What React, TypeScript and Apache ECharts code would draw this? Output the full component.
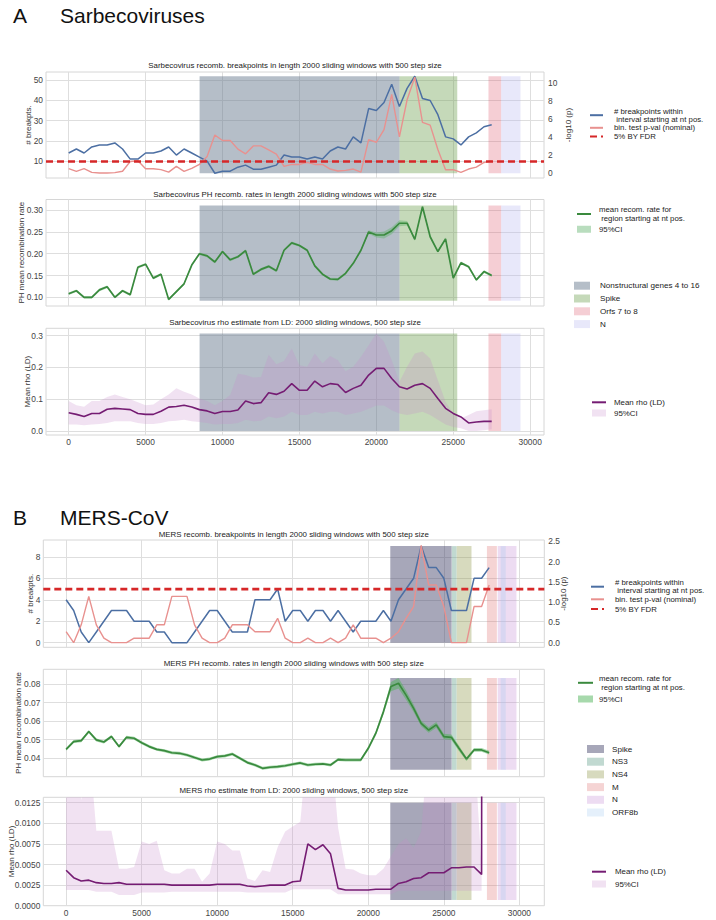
import React, { useEffect, useRef } from 'react';
import * as echarts from 'echarts';

// ---------------- data ----------------
const positionsA = [0, 500, 1000, 1500, 2000, 2500, 3000, 3500, 4000, 4500, 5000, 5500, 6000, 6500, 7000, 7500, 8000, 8500, 9000, 9500, 10000, 10500, 11000, 11500, 12000, 12500, 13000, 13500, 14000, 14500, 15000, 15500, 16000, 16500, 17000, 17500, 18000, 18500, 19000, 19500, 20000, 20500, 21000, 21500, 22000, 22500, 23000, 23500, 24000, 24500, 25000, 25500, 26000, 26500, 27000, 27500];
const breakpointsA = [14, 16, 14, 17, 18, 18, 19, 16, 11, 11, 14, 14, 15, 17, 13, 16, 14, 12, 10, 4, 5, 5, 7, 8, 6, 6, 7, 8, 13, 12, 12, 11, 12, 11, 15, 17, 16, 22, 19, 36, 35, 39, 48, 37, 46, 52, 41, 40, 33, 22, 21, 18, 22, 24, 27, 28];
const pvalA = [0.48, 0.18, 0.48, 0.07, 0, 0, 0.04, 0.2, 1.28, 1.35, 0.48, 0.48, 0.37, 0.1, 0.73, 0.18, 0.51, 0.95, 1.83, 4.2, 3.6, 3.6, 2.64, 2.12, 3.0, 3.0, 2.56, 2.09, 0.73, 0.95, 0.95, 1.17, 0.95, 0.95, 0.44, 0.22, 0.29, 0.44, 0.1, 3.7, 3.4, 4.8, 8.7, 4.0, 8.1, 10.6, 5.6, 5.3, 2.6, 0.37, 0.37, 0.07, 0.44, 0.66, 1.17, 1.35];
const fdrThresholdA = 1.28;
const phRateA = [0.108, 0.115, 0.1, 0.1, 0.117, 0.124, 0.1, 0.115, 0.106, 0.169, 0.176, 0.144, 0.153, 0.095, 0.113, 0.131, 0.174, 0.2, 0.195, 0.181, 0.205, 0.186, 0.193, 0.207, 0.153, 0.164, 0.171, 0.161, 0.208, 0.225, 0.219, 0.208, 0.172, 0.153, 0.142, 0.141, 0.155, 0.178, 0.208, 0.25, 0.243, 0.243, 0.253, 0.27, 0.27, 0.233, 0.308, 0.239, 0.205, 0.234, 0.144, 0.179, 0.17, 0.14, 0.159, 0.15];
const phCiHalfA = [0.003, 0.003, 0.003, 0.003, 0.003, 0.003, 0.003, 0.003, 0.003, 0.003, 0.003, 0.003, 0.003, 0.003, 0.003, 0.003, 0.003, 0.003, 0.003, 0.003, 0.003, 0.003, 0.003, 0.003, 0.003, 0.003, 0.003, 0.003, 0.003, 0.003, 0.003, 0.003, 0.003, 0.003, 0.003, 0.003, 0.003, 0.003, 0.003, 0.004, 0.006, 0.008, 0.008, 0.007, 0.005, 0.003, 0.003, 0.003, 0.003, 0.003, 0.003, 0.003, 0.003, 0.003, 0.003, 0.003];
const rhoA = [0.057, 0.052, 0.045, 0.055, 0.055, 0.068, 0.071, 0.069, 0.067, 0.055, 0.052, 0.052, 0.062, 0.075, 0.077, 0.081, 0.075, 0.067, 0.063, 0.055, 0.061, 0.061, 0.066, 0.094, 0.086, 0.089, 0.12, 0.115, 0.125, 0.149, 0.128, 0.128, 0.157, 0.139, 0.149, 0.146, 0.121, 0.134, 0.144, 0.176, 0.197, 0.197, 0.165, 0.139, 0.132, 0.144, 0.149, 0.134, 0.102, 0.071, 0.055, 0.044, 0.025, 0.028, 0.03, 0.03];
const rhoLoA = [0.02, 0.02, 0.018, 0.02, 0.022, 0.025, 0.03, 0.03, 0.03, 0.025, 0.022, 0.022, 0.025, 0.03, 0.032, 0.035, 0.03, 0.028, 0.025, 0.02, 0.022, 0.022, 0.025, 0.035, 0.03, 0.032, 0.045, 0.04, 0.045, 0.06, 0.05, 0.05, 0.06, 0.055, 0.06, 0.06, 0.05, 0.055, 0.06, 0.07, 0.08, 0.08, 0.065, 0.055, 0.05, 0.055, 0.06, 0.05, 0.035, 0.02, 0.012, 0.008, 0.0, 0.0, 0.002, 0.005];
const rhoHiA = [0.094, 0.081, 0.076, 0.094, 0.094, 0.107, 0.115, 0.107, 0.1, 0.09, 0.081, 0.083, 0.1, 0.115, 0.134, 0.123, 0.115, 0.102, 0.094, 0.081, 0.094, 0.113, 0.18, 0.176, 0.168, 0.17, 0.24, 0.21, 0.22, 0.26, 0.207, 0.202, 0.244, 0.213, 0.236, 0.223, 0.188, 0.202, 0.234, 0.27, 0.307, 0.281, 0.223, 0.155, 0.202, 0.244, 0.25, 0.228, 0.16, 0.092, 0.055, 0.039, 0.05, 0.062, 0.065, 0.068];

const positionsB = [0, 500, 1000, 1500, 2000, 2500, 3000, 3500, 4000, 4500, 5000, 5500, 6000, 6500, 7000, 7500, 8000, 8500, 9000, 9500, 10000, 10500, 11000, 11500, 12000, 12500, 13000, 13500, 14000, 14500, 15000, 15500, 16000, 16500, 17000, 17500, 18000, 18500, 19000, 19500, 20000, 20500, 21000, 21500, 22000, 22500, 23000, 23500, 24000, 24500, 25000, 25500, 26000, 26500, 27000, 27500, 28000];
const breakpointsB = [4, 3, 1, 0, 1, 2, 3, 3, 3, 2, 2, 2, 1, 1, 0, 0, 0, 1, 2, 3, 3, 2, 1, 1, 1, 4, 4, 4, 5, 2, 3, 3, 2, 3, 3, 2, 3, 2, 1, 2, 2, 2, 3, 2, 4, 5, 6, 9, 7, 7, 6, 3, 3, 3, 6, 6, 7];
const pvalB = [0.27, 0, 0.44, 1.14, 0.44, 0.11, 0, 0, 0, 0.11, 0.11, 0.11, 0.44, 0.44, 1.14, 1.14, 1.14, 0.44, 0.11, 0, 0, 0.11, 0.44, 0.44, 0.44, 0.27, 0.27, 0.27, 0.6, 0.11, 0, 0, 0.11, 0, 0, 0.11, 0, 0.11, 0.44, 0.11, 0.11, 0.11, 0, 0.11, 0.27, 0.6, 0.89, 2.4, 1.42, 1.42, 0.89, 0, 0, 0, 0.89, 0.89, 1.42];
const fdrThresholdB = 1.32;
const phRateB = [0.0448, 0.049, 0.0495, 0.0544, 0.0499, 0.0488, 0.0517, 0.0463, 0.0513, 0.0508, 0.0484, 0.0463, 0.0448, 0.0441, 0.043, 0.0427, 0.0418, 0.0404, 0.0391, 0.0396, 0.0409, 0.0413, 0.0423, 0.04, 0.0377, 0.0364, 0.0346, 0.0352, 0.0355, 0.036, 0.0368, 0.0375, 0.0364, 0.0368, 0.037, 0.0364, 0.0393, 0.0391, 0.0391, 0.0391, 0.0454, 0.0535, 0.065, 0.0786, 0.0804, 0.074, 0.0669, 0.0588, 0.0552, 0.058, 0.0517, 0.0513, 0.0454, 0.0396, 0.0445, 0.0445, 0.043];
const phCiHalfB = [0.0008, 0.0008, 0.0008, 0.0009, 0.0008, 0.0008, 0.0008, 0.0008, 0.0008, 0.0008, 0.0008, 0.0008, 0.0008, 0.0008, 0.0008, 0.0008, 0.0008, 0.0008, 0.0008, 0.0008, 0.0008, 0.0008, 0.0008, 0.0008, 0.0008, 0.0008, 0.0008, 0.0008, 0.0008, 0.0008, 0.0008, 0.0008, 0.0008, 0.0008, 0.0008, 0.0008, 0.0008, 0.0008, 0.0008, 0.0008, 0.001, 0.0012, 0.0015, 0.0025, 0.0028, 0.0025, 0.002, 0.0015, 0.0015, 0.0015, 0.0015, 0.0015, 0.0015, 0.001, 0.001, 0.001, 0.001];
const rhoB = [0.0043, 0.0034, 0.003, 0.0031, 0.0028, 0.0027, 0.0027, 0.0028, 0.0026, 0.0026, 0.0026, 0.0026, 0.0026, 0.0026, 0.0025, 0.0025, 0.0025, 0.0025, 0.0025, 0.0025, 0.0026, 0.0026, 0.0026, 0.0026, 0.0024, 0.0023, 0.0024, 0.0025, 0.0025, 0.0025, 0.0029, 0.003, 0.0075, 0.0068, 0.0074, 0.0063, 0.0021, 0.0019, 0.0019, 0.0019, 0.0019, 0.002, 0.002, 0.002, 0.0027, 0.0029, 0.0033, 0.0034, 0.004, 0.004, 0.004, 0.0046, 0.0046, 0.0047, 0.0047, 0.0038, 1.0];
const rhoLoB = [0.0019, 0.0019, 0.0019, 0.0019, 0.0017, 0.0017, 0.0017, 0.0013, 0.0013, 0.0013, 0.0016, 0.0016, 0.0016, 0.0016, 0.0017, 0.0017, 0.0017, 0.0017, 0.0017, 0.0017, 0.0017, 0.0017, 0.0017, 0.0017, 0.0016, 0.0016, 0.0016, 0.0016, 0.0016, 0.0016, 0.002, 0.002, 0.002, 0.002, 0.002, 0.002, 0.0014, 0.0014, 0.0014, 0.0014, 0.0014, 0.0014, 0.0014, 0.0014, 0.0018, 0.0018, 0.0018, 0.0018, 0.0018, 0.0018, 0.0018, 0.0018, 0.0018, 0.0018, 0.0018, 0.0018, 0.5];
const rhoHiB = [0.02, 0.02, 0.0128, 0.02, 0.0091, 0.0091, 0.0091, 0.0045, 0.0045, 0.0047, 0.0078, 0.0075, 0.0079, 0.0043, 0.0039, 0.0039, 0.0045, 0.0045, 0.0029, 0.0039, 0.0078, 0.0075, 0.0067, 0.0067, 0.0033, 0.003, 0.0043, 0.0041, 0.0071, 0.009, 0.0096, 0.0102, 0.02, 0.02, 0.02, 0.02, 0.0095, 0.0045, 0.0044, 0.0039, 0.0037, 0.0037, 0.0045, 0.006, 0.0075, 0.0082, 0.007, 0.009, 0.02, 0.02, 0.02, 0.02, 0.02, 0.02, 0.02, 0.0045, 1.5];

const regionNamesA = ['Nonstructural genes 4 to 16', 'Spike', 'Orfs 7 to 8', 'N'];
const regionStartA = [8510, 21510, 27290, 28115];
const regionEndA = [21510, 25260, 28115, 29370];
const regionNamesB = ['Spike ', 'NS3', 'NS4', 'M', 'N ', 'ORF8b'];
const regionStartB = [21456, 25532, 25852, 27853, 28566, 28762];
const regionEndB = [25517, 25843, 26832, 28512, 29807, 29100];
const regionExtentB3 = [0.0007, 0.0125];

const xTickValues = [0, 5000, 10000, 15000, 20000, 25000, 30000];
const ticksA1Left = [10, 20, 30, 40, 50];
const ticksA1Right = [0, 2, 4, 6, 8, 10];
const ticksA2 = [0.1, 0.15, 0.2, 0.25, 0.3];
const ticksA3 = [0, 0.1, 0.2, 0.3];
const ticksB1Left = [0, 2, 4, 6, 8];
const ticksB1Right = [0, 0.5, 1, 1.5, 2, 2.5];
const ticksB2 = [0.04, 0.05, 0.06, 0.07, 0.08];
const ticksB3 = [0, 0.0025, 0.005, 0.0075, 0.01, 0.0125];

// ---------------- styling ----------------
const FONT = '"Liberation Sans", Arial, Helvetica, sans-serif';
const cBlue = '#4c6fa3';
const cPink = '#e8918f';
const cRed = '#d62728';
const cGreen = '#3a8a3e';
const cGreenBandA = 'rgba(100,180,110,0.45)';
const cGreenBandB = 'rgba(80,180,90,0.5)';
const cPurple = '#751c73';
const cPurpleBand = 'rgba(200,140,205,0.25)';
const regionColorsA = ['rgba(100,120,140,0.48)', 'rgba(110,160,80,0.4)', 'rgba(220,80,100,0.28)', 'rgba(180,180,240,0.3)'];
const regionColorsB = ['rgba(60,60,100,0.45)', 'rgba(100,160,140,0.4)', 'rgba(140,150,70,0.35)', 'rgba(220,100,100,0.28)', 'rgba(190,130,210,0.28)', 'rgba(160,200,240,0.28)'];

const xMinA = -1475, xMaxA = 30900;
const xMinB = -1510, xMaxB = 31650;

const nBpA = '# breakpoints within\n interval starting at nt pos.';
const nPvA = 'bin. test p-val (nominal)';
const nFdrA = '5% BY FDR';
const nPhA = 'mean recom. rate for\n region starting at nt pos.';
const nCiA2 = '95%CI';
const nRhoA = 'Mean rho (LD)';
const nCiA3 = '95%CI ';
const nBpB = '# breakpoints within\n interval starting at nt pos. ';
const nPvB = 'bin. test p-val (nominal) ';
const nFdrB = '5% BY FDR ';
const nPhB = 'mean recom. rate for\n region starting at nt pos. ';
const nCiB2 = '95%CI  ';
const nRhoB = 'Mean rho (LD) ';
const nCiB3 = '95%CI   ';

function buildOption() {
  const grids = [
    { left: 46, top: 72, width: 498, height: 106 },
    { left: 46, top: 199.5, width: 498, height: 106.5 },
    { left: 46, top: 328.3, width: 498, height: 106.7 },
    { left: 43.3, top: 540, width: 501, height: 107.3 },
    { left: 43.3, top: 669.3, width: 501, height: 107.4 },
    { left: 43.3, top: 797.3, width: 501, height: 108.4 },
  ].map((g) => ({ ...g, show: true, borderColor: '#d6d6d6', borderWidth: 1, backgroundColor: 'transparent' }));

  const xAx = (gi: number, min: number, max: number, showLabels: boolean) => ({
    type: 'value', gridIndex: gi, min, max,
    axisLine: { show: false },
    axisTick: { show: false, customValues: xTickValues },
    axisLabel: { show: showLabels, customValues: xTickValues, formatter: (v: number) => String(v), fontSize: 8.4, color: '#444', margin: 3, fontFamily: FONT },
    splitLine: { show: true, lineStyle: { color: '#dedede', width: 1 } },
  });

  const yAx = (o: any) => ({
    type: 'value', gridIndex: o.gi, min: o.min, max: o.max, position: o.pos || 'left',
    axisLine: { show: false },
    axisTick: { show: false, customValues: o.ticks },
    axisLabel: { show: true, customValues: o.ticks, formatter: o.fmt, fontSize: 8.4, color: '#444', margin: o.pos === 'right' ? 4 : 3, fontFamily: FONT },
    splitLine: { show: o.split !== false, lineStyle: { color: '#dedede', width: 1 } },
  });

  const fInt = (v: number) => String(Math.round(v));
  const f1 = (v: number) => v.toFixed(1);
  const f2 = (v: number) => v.toFixed(2);
  const f4 = (v: number) => v.toFixed(4);

  const line = (name: string, xi: number, yi: number, pos: number[], vals: number[], color: string, width: number, extra: any = {}) => ({
    type: 'line', name, xAxisIndex: xi, yAxisIndex: yi,
    data: pos.map((x, i) => [x, vals[i]]),
    symbol: 'none', showSymbol: false, color, itemStyle: { color },
    lineStyle: { color, width, ...(extra.lineStyle || {}) },
    z: 4, silent: true, clip: true,
  });

  // confidence band: one polygon (upper edge forward, lower edge back) through the axes' scales
  const band = (name: string, xi: number, yi: number, pos: number[], lo: number[], hi: number[], color: string) => ({
    type: 'custom', name, xAxisIndex: xi, yAxisIndex: yi, clip: true, silent: true, z: 3,
    color, itemStyle: { color },
    data: pos.map((x, i) => [x, lo[i], hi[i]]),
    encode: { x: 0, y: [1, 2] },
    renderItem: (params: any, api: any) => {
      if (params.dataIndex !== 0) return null;
      const pts: number[][] = [];
      for (let i = 0; i < pos.length; i++) pts.push(api.coord([pos[i], hi[i]]));
      for (let i = pos.length - 1; i >= 0; i--) pts.push(api.coord([pos[i], lo[i]]));
      return { type: 'polygon', shape: { points: pts }, style: { fill: color, stroke: 'none' }, silent: true };
    },
  });

  const region = (name: string, xi: number, yi: number, a: number, b: number, lo: number, hi: number, color: string) => ({
    type: 'line', name, xAxisIndex: xi, yAxisIndex: yi, data: [], color, itemStyle: { color }, z: 1, silent: true,
    markArea: {
      silent: true, itemStyle: { color, borderWidth: 0 }, label: { show: false }, emphasis: { disabled: true },
      data: [[{ xAxis: a, yAxis: lo }, { xAxis: b, yAxis: hi }]],
    },
  });

  const phLoA = phRateA.map((v, i) => v - phCiHalfA[i]);
  const phHiA = phRateA.map((v, i) => v + phCiHalfA[i]);
  const phLoB = phRateB.map((v, i) => v - phCiHalfB[i]);
  const phHiB = phRateB.map((v, i) => v + phCiHalfB[i]);

  const extA = [
    [Math.min(...breakpointsA), Math.max(...breakpointsA)],
    [Math.min(...phLoA), Math.max(...phHiA)],
    [Math.min(...rhoLoA), Math.max(...rhoHiA)],
  ];
  const extB = [
    [Math.min(...breakpointsB), Math.max(...breakpointsB)],
    [Math.min(...phLoB), Math.max(...phHiB)],
    regionExtentB3,
  ];
  const yForGridA = [0, 2, 3];
  const yForGridB = [4, 6, 7];

  const series: any[] = [];
  for (let g = 0; g < 3; g++) {
    regionNamesA.forEach((n, r) => series.push(region(n, g, yForGridA[g], regionStartA[r], regionEndA[r], extA[g][0], extA[g][1], regionColorsA[r])));
  }
  for (let g = 0; g < 3; g++) {
    regionNamesB.forEach((n, r) => series.push(region(n, 3 + g, yForGridB[g], regionStartB[r], regionEndB[r], extB[g][0], extB[g][1], regionColorsB[r])));
  }

  // A panels
  series.push(line(nBpA, 0, 0, positionsA, breakpointsA, cBlue, 1.5));
  series.push(line(nPvA, 0, 1, positionsA, pvalA, cPink, 1.4));
  series.push(line(nFdrA, 0, 1, [xMinA, xMaxA], [fdrThresholdA, fdrThresholdA], cRed, 2.6, { lineStyle: { type: [7, 4] } }));
  series.push(band(nCiA2, 1, 2, positionsA, phLoA, phHiA, cGreenBandA));
  series.push(line(nPhA, 1, 2, positionsA, phRateA, cGreen, 1.7));
  series.push(band(nCiA3, 2, 3, positionsA, rhoLoA, rhoHiA, cPurpleBand));
  series.push(line(nRhoA, 2, 3, positionsA, rhoA, cPurple, 1.6));
  // B panels
  series.push(line(nBpB, 3, 4, positionsB, breakpointsB, cBlue, 1.5));
  series.push(line(nPvB, 3, 5, positionsB, pvalB, cPink, 1.4));
  series.push(line(nFdrB, 3, 5, [xMinB, xMaxB], [fdrThresholdB, fdrThresholdB], cRed, 2.6, { lineStyle: { type: [7, 4] } }));
  series.push(band(nCiB2, 4, 6, positionsB, phLoB, phHiB, cGreenBandB));
  series.push(line(nPhB, 4, 6, positionsB, phRateB, cGreen, 1.7));
  series.push(band(nCiB3, 5, 7, positionsB, rhoLoB, rhoHiB, cPurpleBand));
  series.push(line(nRhoB, 5, 7, positionsB, rhoB, cPurple, 1.6));

  const lg = (left: number, top: number, items: any[], opts: any = {}) => ({
    orient: 'vertical', left, top, padding: 0, selectedMode: false,
    itemWidth: opts.iw || 13, itemHeight: opts.ih || 7, itemGap: opts.gap ?? 0,
    itemStyle: { opacity: 0 },
    textStyle: { fontSize: opts.fs || 7.8, lineHeight: opts.lh || 8.4, color: '#222', fontFamily: FONT, padding: [0, 0, 0, opts.tp ?? 6] },
    data: items,
  });
  const rect = (name: string) => ({ name, icon: 'rect', itemStyle: { opacity: 1 } });

  const legend = [
    lg(589, 106.8, [{ name: nBpA }, { name: nPvA }]),
    lg(589, 132.3, [{ name: nFdrA }]),
    lg(576, 204.5, [{ name: nPhA }, rect(nCiA2)], { iw: 14, gap: 1, lh: 9.5, tp: 3 }),
    lg(574, 280.7, regionNamesA.map(rect), { iw: 16, ih: 8, gap: 2.8, fs: 8.1, lh: 10, tp: 5 }),
    lg(591, 397.8, [{ name: nRhoA }, rect(nCiA3)], { iw: 14, gap: 1.7, fs: 7.9, lh: 9, tp: 3 }),
    lg(590, 578.3, [{ name: nBpB }, { name: nPvB }]),
    lg(590, 604.8, [{ name: nFdrB }]),
    lg(577, 673.8, [{ name: nPhB }, rect(nCiB2)], { iw: 15, gap: 2.7, lh: 9, tp: 1 }),
    lg(587, 744, regionNamesB.map(rect), { iw: 17, ih: 8, gap: 2.7, fs: 8.1, lh: 10, tp: 3 }),
    lg(591, 867.2, [{ name: nRhoB }, rect(nCiB3)], { iw: 14, gap: 3.3, fs: 7.9, lh: 9, tp: 4 }),
  ];

  const title = (x: number, y: number, text: string) => ({
    type: 'text', x, y, silent: true,
    style: { text, fontSize: 7.9, fill: '#222', fontFamily: FONT, textAlign: 'center', textVerticalAlign: 'middle' },
  });
  const header = (x: number, y: number, text: string) => ({
    type: 'text', x, y, silent: true,
    style: { text, fontSize: 21, fill: '#111', fontFamily: FONT, textAlign: 'left', textVerticalAlign: 'middle' },
  });
  const axisName = (x: number, y: number, text: string) => ({
    type: 'text', x, y, rotation: Math.PI / 2, silent: true,
    style: { text, fontSize: 8, fill: '#333', fontFamily: FONT, textAlign: 'center', textVerticalAlign: 'middle' },
  });

  const graphic = [
    header(13, 15, 'A'),
    header(60, 15, 'Sarbecoviruses'),
    header(13, 517, 'B'),
    header(60, 517, 'MERS-CoV'),
    title(295, 65.5, 'Sarbecovirus recomb. breakpoints in length 2000 sliding windows with 500 step size'),
    title(295, 194.7, 'Sarbecovirus PH recomb. rates in length 2000 sliding windows with 500 step size'),
    title(295, 322.3, 'Sarbecovirus rho estimate from LD: 2000 sliding windows, 500 step size'),
    title(293.8, 534, 'MERS recomb. breakpoints in length 2000 sliding windows with 500 step size'),
    title(293.8, 663.3, 'MERS PH recomb. rates in length 2000 sliding windows with 500 step size'),
    title(293.8, 790.5, 'MERS rho estimate from LD: 2000 sliding windows, 500 step size'),
    axisName(28, 125, '# breakpts.'),
    axisName(568, 125, '-log10 (p)'),
    axisName(21.7, 252.7, 'PH mean recombination rate'),
    axisName(27.3, 381.6, 'Mean rho (LD)'),
    axisName(30, 593.6, '# breakpts.'),
    axisName(563.3, 593.6, '-log10 (p)'),
    axisName(18.3, 723, 'PH mean recombination rate'),
    axisName(11.7, 851.5, 'Mean rho (LD)'),
  ];

  return {
    animation: false,
    backgroundColor: '#ffffff',
    textStyle: { fontFamily: FONT },
    grid: grids,
    xAxis: [
      xAx(0, xMinA, xMaxA, false), xAx(1, xMinA, xMaxA, false), xAx(2, xMinA, xMaxA, true),
      xAx(3, xMinB, xMaxB, false), xAx(4, xMinB, xMaxB, false), xAx(5, xMinB, xMaxB, true),
    ],
    yAxis: [
      yAx({ gi: 0, min: 1.64, max: 54.1, ticks: ticksA1Left, fmt: fInt }),
      yAx({ gi: 0, pos: 'right', min: -0.55, max: 11.17, ticks: ticksA1Right, fmt: fInt, split: false }),
      yAx({ gi: 1, min: 0.08, max: 0.3245, ticks: ticksA2, fmt: f2 }),
      yAx({ gi: 2, min: -0.013, max: 0.3234, ticks: ticksA3, fmt: f1 }),
      yAx({ gi: 3, min: -0.43, max: 9.57, ticks: ticksB1Left, fmt: fInt }),
      yAx({ gi: 3, pos: 'right', min: -0.114, max: 2.53, ticks: ticksB1Right, fmt: f1, split: false }),
      yAx({ gi: 4, min: 0.0301, max: 0.0879, ticks: ticksB2, fmt: f2 }),
      yAx({ gi: 5, min: 0, max: 0.01316, ticks: ticksB3, fmt: f4 }),
    ],
    legend,
    graphic,
    series,
  };
}

export default function App() {
  const ref = useRef<HTMLDivElement>(null);
  useEffect(() => {
    if (!ref.current) return;
    const chart = echarts.init(ref.current, null, { renderer: 'svg' });
    chart.setOption(buildOption() as any);
    return () => chart.dispose();
  }, []);
  return <div ref={ref} style={{ position: 'absolute', left: 0, top: 0, width: 716, height: 920, background: '#fff' }} />;
}
